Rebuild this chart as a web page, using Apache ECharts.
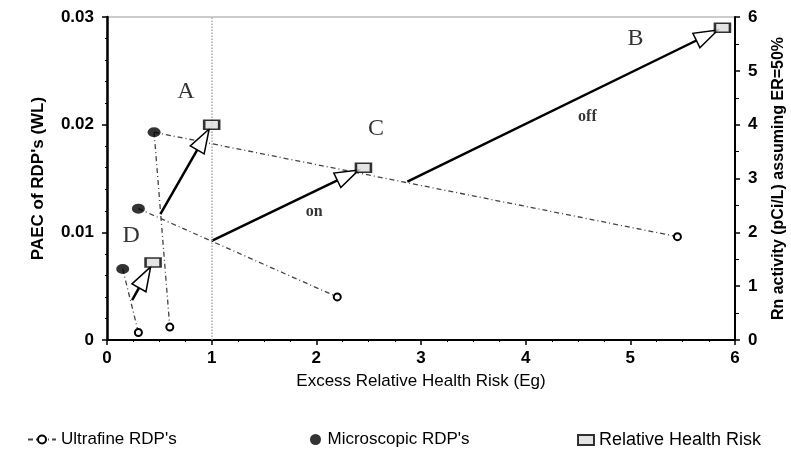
<!DOCTYPE html>
<html><head><meta charset="utf-8">
<script src="https://cdn.jsdelivr.net/npm/echarts@6/dist/echarts.min.js"></script>
<style>html,body{margin:0;padding:0;background:#fff}#c{width:791px;height:450px}</style>
</head><body><div id="c"></div>
<script>
// Ultrafine / microscopic pairs (each segment: microscopic point -> ultrafine point)
const microscopic = [[0.15, 0.0066], [0.30, 0.0122], [0.45, 0.0193]];
const ultrafine = [[0.30, 0.0007], [0.60, 0.0012], [2.20, 0.0040], [5.45, 0.0096]];
// connection segments: [microscopic index, ultrafine index]
const segments = [[2, 1], [0, 0], [1, 2], [2, 3]];
const healthRisk = [[0.44, 0.0072], [1.00, 0.0200], [2.45, 0.0160], [5.88, 0.0290]];
// arrows: start point on each line -> relative health risk point
const arrowFrom = [[0.24, 0.0037], [0.51, 0.0117], [1.00, 0.0092], [2.87, 0.0147]];
const arrowTo = healthRisk;
const annotations = [
  ['A', 0.755, 0.0231], ['B', 5.05, 0.0280], ['C', 2.57, 0.0196], ['D', 0.23, 0.0097],
  ['on', 1.98, 0.0119], ['off', 4.59, 0.0207]
];
const xTicks = [0, 1, 2, 3, 4, 5, 6];
const leftTicks = [0, 0.01, 0.02, 0.03];
const rightTicks = [0, 1, 2, 3, 4, 5, 6];

const ultraData = [];
segments.forEach(([m, u], i) => {
  if (i > 0) ultraData.push('-');
  ultraData.push({ value: microscopic[m], symbol: 'none' });
  ultraData.push({ value: ultrafine[u] });
});

const chart = echarts.init(document.getElementById('c'), null, { renderer: 'canvas' });
const lab = { color: '#000', fontFamily: 'Liberation Sans, Arial', fontWeight: 'bold', fontSize: 17 };
const legText = { color: '#000', fontFamily: 'Liberation Sans, Arial', fontSize: 17 };
chart.setOption({
  animation: false,
  backgroundColor: '#fff',
  grid: { left: 107, right: 56, top: 17, bottom: 110, show: true, borderColor: '#999', borderWidth: 1,
    containLabel: false, outerBoundsMode: 'none' },
  xAxis: {
    type: 'value', min: xTicks[0], max: xTicks[xTicks.length - 1], interval: 1,
    axisLine: { show: true, lineStyle: { color: '#000', width: 2 } },
    axisTick: { show: true, length: 5, lineStyle: { color: '#000', width: 1.5 } },
    minorTick: { show: true, splitNumber: 4, length: 2, lineStyle: { color: '#000' } },
    splitLine: { show: false },
    axisLabel: Object.assign({ margin: 10 }, lab),
    name: 'Excess Relative Health Risk (Eg)', nameLocation: 'middle', nameGap: 33,
    nameTextStyle: { color: '#000', fontFamily: 'Liberation Sans, Arial', fontSize: 17 }
  },
  yAxis: [{
    type: 'value', min: leftTicks[0], max: leftTicks[leftTicks.length - 1], interval: 0.01,
    axisLine: { show: true, lineStyle: { color: '#000', width: 2.5 } },
    axisTick: { show: true, length: 5, lineStyle: { color: '#000', width: 1.5 } },
    minorTick: { show: true, splitNumber: 5, length: 2, lineStyle: { color: '#000' } },
    splitLine: { show: false },
    axisLabel: Object.assign({ margin: 13, formatter: v => v === 0 ? '0' : v.toFixed(2) }, lab),
    name: "PAEC of RDP's (WL)", nameLocation: 'middle', nameGap: 60, nameRotate: 90,
    nameTextStyle: { color: '#000', fontFamily: 'Liberation Sans, Arial', fontWeight: 'bold', fontSize: 17 }
  }, {
    type: 'value', position: 'right', min: rightTicks[0], max: rightTicks[rightTicks.length - 1], interval: 1,
    axisLine: { show: true, lineStyle: { color: '#000', width: 2 } },
    axisTick: { show: true, length: 5, lineStyle: { color: '#000', width: 1.5 } },
    minorTick: { show: true, splitNumber: 2, length: 4, lineStyle: { color: '#000' } },
    splitLine: { show: false },
    axisLabel: Object.assign({ margin: 13 }, lab),
    name: 'Rn activity (pCi/L) assuming ER=50%', nameLocation: 'middle', nameGap: 36, nameRotate: 90,
    nameTextStyle: { color: '#000', fontFamily: 'Liberation Sans, Arial', fontWeight: 'bold', fontSize: 16 }
  }],
  legend: [
    { data: ["Ultrafine RDP's"], left: 22, top: 426, itemWidth: 28, itemHeight: 10, textStyle: legText },
    { data: ["Microscopic RDP's"], left: 305, top: 426, itemWidth: 14, itemHeight: 11, textStyle: legText },
    { data: ['Relative Health Risk'], left: 572, top: 426, itemWidth: 16, itemHeight: 10,
      textStyle: Object.assign({}, legText, { fontSize: 18 }) }
  ],
  series: [
    {
      name: "Ultrafine RDP's", type: 'line', data: ultraData, connectNulls: false,
      symbol: 'emptyCircle', symbolSize: 7,
      itemStyle: { color: '#000', borderColor: '#000', borderWidth: 1.5 },
      lineStyle: { color: '#444', width: 1.3, type: [5, 3, 1, 3] },
      z: 3
    },
    {
      name: "Microscopic RDP's", type: 'scatter', data: microscopic,
      symbol: 'circle', symbolSize: [13, 10], itemStyle: { color: '#000' }, z: 5,
      markLine: {
        silent: true, symbol: 'none', label: { show: false },
        lineStyle: { color: '#aaa', type: 'dotted', width: 1.5 },
        data: [{ xAxis: 1 }]
      }
    },
    {
      name: 'arrows', type: 'custom', z: 4,
      data: arrowFrom.map((p, i) => [p[0], p[1], arrowTo[i][0], arrowTo[i][1]]),
      encode: { x: [0, 2], y: [1, 3] },
      renderItem: function (params, api) {
        const a = api.coord([api.value(0), api.value(1)]);
        const b0 = api.coord([api.value(2), api.value(3)]);
        let dx = b0[0] - a[0], dy = b0[1] - a[1];
        const len = Math.sqrt(dx * dx + dy * dy); dx /= len; dy /= len;
        const tip = [b0[0] - dx * 5, b0[1] - dy * 5];
        const L = 24, W = 8;
        const base = [tip[0] - dx * L, tip[1] - dy * L];
        const nx = -dy, ny = dx;
        return {
          type: 'group', children: [
            { type: 'line', shape: { x1: a[0], y1: a[1], x2: base[0], y2: base[1] },
              style: { stroke: '#000', lineWidth: 2.5 } },
            { type: 'polygon', shape: { points: [tip, [base[0] + nx * W, base[1] + ny * W], [base[0] - nx * W, base[1] - ny * W]] },
              style: { fill: '#fff', stroke: '#000', lineWidth: 1.5 } }
          ]
        };
      }
    },
    {
      name: 'Relative Health Risk', type: 'scatter', data: healthRisk,
      symbol: 'rect', symbolSize: [15, 9],
      itemStyle: { color: '#ddd', borderColor: '#000', borderWidth: 2 }, z: 6
    },
    {
      name: 'labels', type: 'scatter', silent: true, z: 7,
      data: annotations.map(a => ({
        name: a[0], value: [a[1], a[2]],
        label: (a[0] === 'on' || a[0] === 'off') ? { fontSize: 16, fontWeight: 'bold' } : {}
      })),
      symbolSize: 1, itemStyle: { color: 'rgba(0,0,0,0)' },
      label: {
        show: true, position: 'inside', formatter: p => p.name, color: '#000',
        fontFamily: 'Liberation Serif, Times New Roman',
        fontSize: 24
      }
    }
  ]
});
</script></body></html>
